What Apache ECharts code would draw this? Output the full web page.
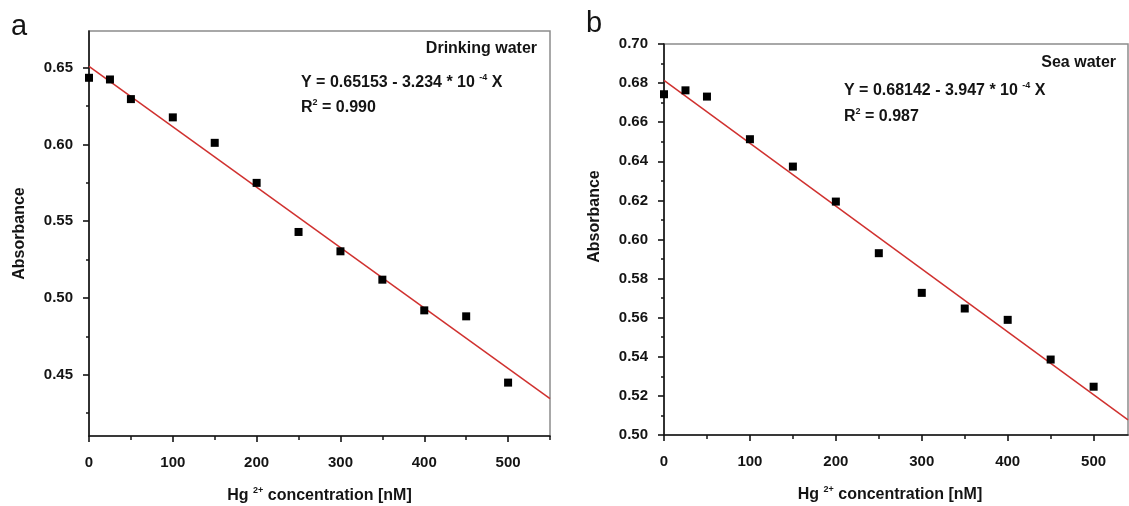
<!DOCTYPE html>
<html>
<head>
<meta charset="utf-8">
<script src="https://cdn.jsdelivr.net/npm/echarts@6/dist/echarts.min.js"></script>
<style>
  html, body { margin: 0; padding: 0; background: #fff; }
  #chart { width: 1129px; height: 506px; }
</style>
</head>
<body>
<div id="chart"></div>
<script>
// Hg2+ concentration (nM) and measured absorbance
const concentration = [0, 25, 50, 100, 150, 200, 250, 300, 350, 400, 450, 500];
const drinkingWater = [0.6435, 0.6424, 0.6296, 0.6177, 0.6011, 0.5750, 0.5430, 0.5304, 0.5119, 0.4919, 0.4880, 0.4448];
const seaWater      = [0.6743, 0.6763, 0.6731, 0.6513, 0.6373, 0.6194, 0.5930, 0.5727, 0.5647, 0.5589, 0.5386, 0.5247];

// tick positions
const xMajor = [0, 100, 200, 300, 400, 500];
const xMinorA = [50, 150, 250, 350, 450, 550];
const xMinorB = [50, 150, 250, 350, 450];
const yMajorA = [0.45, 0.50, 0.55, 0.60, 0.65];
const yMinorA = [0.425, 0.475, 0.525, 0.575, 0.625];
const yMajorB = [0.50, 0.52, 0.54, 0.56, 0.58, 0.60, 0.62, 0.64, 0.66, 0.68, 0.70];
const yMinorB = [0.51, 0.53, 0.55, 0.57, 0.59, 0.61, 0.63, 0.65, 0.67, 0.69];

// annotation texts
const panelLetters = ['a', 'b'];
const sampleNames = ['Drinking water', 'Sea water'];
const fitIntercepts = ['0.65153', '0.68142'];
const fitSlopes = ['3.234', '3.947'];
const rSquared = ['0.990', '0.987'];

const FONT = '"Liberation Sans", Arial, Helvetica, sans-serif';
const INK = '#141414';
const RED = '#d0312f';

// least-squares line through the plotted points
function fit(xs, ys) {
  const n = xs.length;
  const mx = xs.reduce((s, v) => s + v, 0) / n;
  const my = ys.reduce((s, v) => s + v, 0) / n;
  let sxy = 0, sxx = 0;
  for (let i = 0; i < n; i++) {
    sxy += (xs[i] - mx) * (ys[i] - my);
    sxx += (xs[i] - mx) * (xs[i] - mx);
  }
  const b = sxy / sxx;
  return { a: my - b * mx, b: b };
}

const panels = [
  { grid: { left: 89, top: 31, width: 461, height: 405 }, xMax: 550, yMin: 0.41, yMax: 0.674,
    yMajor: yMajorA, yMinor: yMinorA, xMinor: xMinorA, values: drinkingWater,
    yNamePad: [0, 0, 0, 0], xNamePad: [0, 0, 0, 0] },
  { grid: { left: 664, top: 44, width: 464, height: 391 }, xMax: 540, yMin: 0.50, yMax: 0.70,
    yMajor: yMajorB, yMinor: yMinorB, xMinor: xMinorB, values: seaWater,
    yNamePad: [0, 0, 0, 46], xNamePad: [0, 12, 0, 0] }
];

const tickLabelStyle = { color: INK, fontFamily: FONT, fontWeight: 'bold', fontSize: 15 };
const nameRich = {
  n: { color: INK, fontFamily: FONT, fontWeight: 'bold', fontSize: 16, lineHeight: 20 },
  s: { color: INK, fontFamily: FONT, fontWeight: 'bold', fontSize: 9, lineHeight: 20, verticalAlign: 'top', padding: [0, 0, 10, 0] }
};

const grids = [], xAxes = [], yAxes = [], series = [];

panels.forEach((p, i) => {
  grids.push(Object.assign({
    show: true, borderColor: '#8c8c8c', borderWidth: 1.5, backgroundColor: 'transparent',
    containLabel: false, outerBoundsMode: 'none'
  }, p.grid));

  // major x axis with labels and name
  xAxes.push({
    type: 'value', gridIndex: i, position: 'bottom', min: 0, max: p.xMax,
    axisLine: { show: true, onZero: false, lineStyle: { color: INK, width: 1.6 } },
    axisTick: { show: true, inside: false, length: 6, customValues: xMajor, lineStyle: { color: INK, width: 1.6 } },
    axisLabel: Object.assign({ customValues: xMajor, margin: 19, formatter: v => String(Math.round(v)) }, tickLabelStyle),
    splitLine: { show: false },
    name: '{n|Hg }{s|2+}{n| concentration [nM]}',
    nameLocation: 'middle', nameGap: 50,
    nameTextStyle: { rich: nameRich, padding: p.xNamePad }
  });
  // minor x ticks
  xAxes.push({
    type: 'value', gridIndex: i, position: 'bottom', min: 0, max: p.xMax,
    axisLine: { show: false },
    axisTick: { show: true, inside: false, length: 4, customValues: p.xMinor, lineStyle: { color: INK, width: 1.5 } },
    axisLabel: { show: false }, splitLine: { show: false }
  });
  // major y axis
  yAxes.push({
    type: 'value', gridIndex: i, position: 'left', min: p.yMin, max: p.yMax,
    axisLine: { show: true, onZero: false, lineStyle: { color: INK, width: 1.6 } },
    axisTick: { show: true, inside: false, length: 6, customValues: p.yMajor, lineStyle: { color: INK, width: 1.6 } },
    axisLabel: Object.assign({ customValues: p.yMajor, margin: 16, formatter: v => v.toFixed(2) }, tickLabelStyle),
    splitLine: { show: false },
    name: 'Absorbance', nameLocation: 'middle', nameGap: 61,
    nameTextStyle: { color: INK, fontFamily: FONT, fontWeight: 'bold', fontSize: 16, padding: p.yNamePad }
  });
  // minor y ticks
  yAxes.push({
    type: 'value', gridIndex: i, position: 'left', min: p.yMin, max: p.yMax,
    axisLine: { show: false },
    axisTick: { show: true, inside: false, length: 3, customValues: p.yMinor, lineStyle: { color: INK, width: 1.5 } },
    axisLabel: { show: false }, splitLine: { show: false }
  });

  const f = fit(concentration, p.values);
  series.push({
    type: 'line', xAxisIndex: 2 * i, yAxisIndex: 2 * i,
    data: [[0, f.a], [p.xMax, f.a + f.b * p.xMax]],
    symbol: 'none', silent: true, z: 2,
    lineStyle: { color: RED, width: 1.5 }
  });
  series.push({
    type: 'scatter', xAxisIndex: 2 * i, yAxisIndex: 2 * i,
    data: concentration.map((c, k) => [c, p.values[k]]),
    symbol: 'rect', symbolSize: 8, z: 3,
    itemStyle: { color: '#000', opacity: 1 }
  });
});

const eqRich = {
  t: { fill: INK, fontFamily: FONT, fontWeight: 'bold', fontSize: 16, lineHeight: 20 },
  s: { fill: INK, fontFamily: FONT, fontWeight: 'bold', fontSize: 9, lineHeight: 20, verticalAlign: 'top', padding: [0, 0, 10, 0] }
};

function label(text, x, y, opts) {
  return {
    type: 'text', x: x, y: y, silent: true,
    style: Object.assign({ text: text, fill: INK, fontFamily: FONT, rich: eqRich, verticalAlign: 'middle' }, opts || {})
  };
}

const textPos = [
  { letter: [11, 27], name: [537, 49], eq: [301, 83], r2: [301, 108] },
  { letter: [586, 24], name: [1116, 63], eq: [844, 91], r2: [844, 117] }
];

const graphic = [];
textPos.forEach((t, i) => {
  graphic.push(label(panelLetters[i], t.letter[0], t.letter[1], { fontSize: 29, fontWeight: 'normal', rich: null }));
  graphic.push(label(sampleNames[i], t.name[0], t.name[1], { fontSize: 16, fontWeight: 'bold', align: 'right', rich: null }));
  graphic.push(label('{t|Y = ' + fitIntercepts[i] + ' - ' + fitSlopes[i] + ' * 10 }{s|-4}{t| X}', t.eq[0], t.eq[1]));
  graphic.push(label('{t|R}{s|2}{t| = ' + rSquared[i] + '}', t.r2[0], t.r2[1]));
});

const chart = echarts.init(document.getElementById('chart'), null, { renderer: 'canvas' });
chart.setOption({
  backgroundColor: '#ffffff',
  animation: false,
  grid: grids,
  xAxis: xAxes,
  yAxis: yAxes,
  series: series,
  graphic: graphic
});
</script>
</body>
</html>
